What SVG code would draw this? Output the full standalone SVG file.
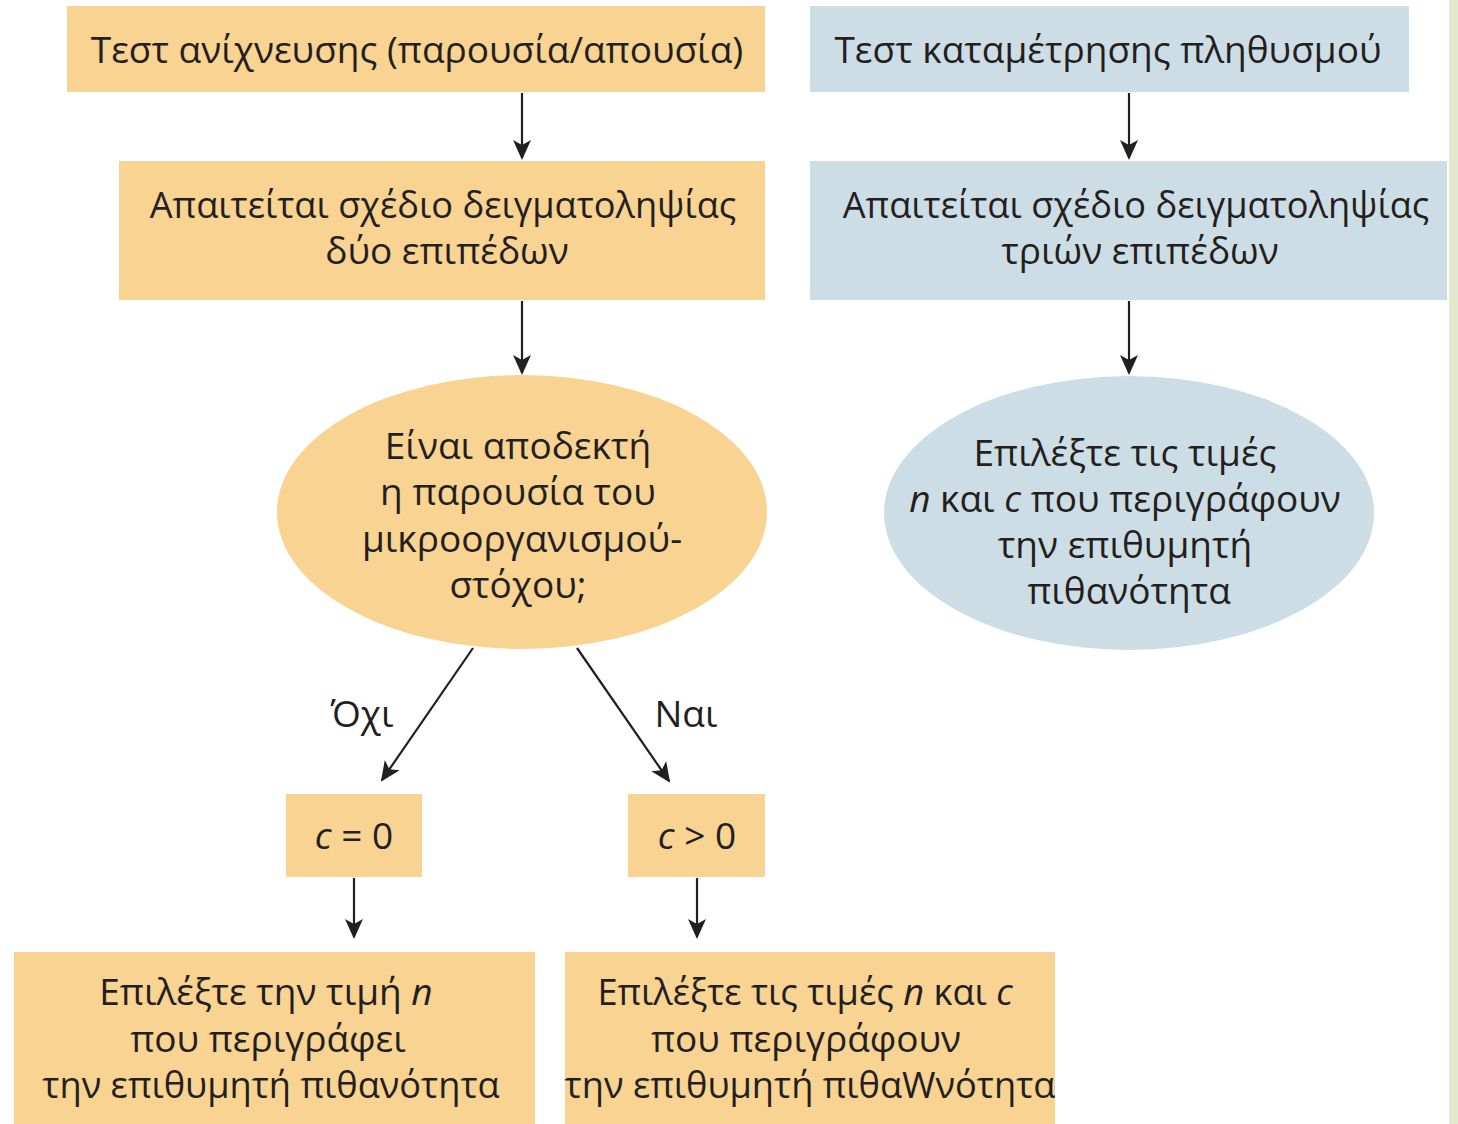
<svg xmlns="http://www.w3.org/2000/svg" width="1458" height="1124" viewBox="0 0 1458 1124">
<style>
.o{fill:#f8d391}
.b{fill:#cddde5}
text{font-family:"Open Sans","Noto Sans","DejaVu Sans",sans-serif;font-size:37px;fill:#231f20;text-anchor:middle}
.s{font-size:36.2px}
.i{font-style:italic}
.c line{stroke:#231f20;stroke-width:2.2;marker-end:url(#ah)}
</style>
<defs>
<marker id="ah" viewBox="0 0 20 20" refX="18" refY="10" markerWidth="20" markerHeight="20" markerUnits="userSpaceOnUse" orient="auto">
<path d="M0,1 L20,10 L0,19 L5,10 Z" fill="#231f20"/>
</marker>
</defs>
<rect width="1458" height="1124" fill="#fff"/>
<rect x="1449" y="0" width="9" height="1124" fill="#e1e8cd"/>
<g id="n1"><rect class="o" x="67" y="6" width="698" height="86"/><text x="417" y="63">Τεστ ανίχνευσης (παρουσία/απουσία)</text></g>
<g id="n2"><rect class="b" x="810" y="6" width="599" height="86"/><text x="1108" y="63">Τεστ καταμέτρησης πληθυσμού</text></g>
<g id="n3"><rect class="o" x="119" y="161" width="646" height="139"/><text class="s" x="443" y="218">Απαιτείται σχέδιο δειγματοληψίας</text><text x="447" y="264">δύο επιπέδων</text></g>
<g id="n4"><rect class="b" x="810" y="161" width="637" height="139"/><text class="s" x="1136" y="218">Απαιτείται σχέδιο δειγματοληψίας</text><text x="1140" y="264">τριών επιπέδων</text></g>
<g id="n5"><ellipse class="o" cx="522" cy="512" rx="245" ry="137"/><text x="518" y="459">Είναι αποδεκτή</text><text x="518" y="505">η παρουσία του</text><text x="522" y="552">μικροοργανισμού-</text><text x="518" y="598">στόχου;</text></g>
<g id="n6"><ellipse class="b" cx="1129" cy="513" rx="245" ry="137"/><text x="1125" y="466">Επιλέξτε τις τιμές</text><text x="1125" y="512"><tspan class="i">n</tspan> και <tspan class="i">c</tspan> που περιγράφουν</text><text x="1125" y="558">την επιθυμητή</text><text x="1129" y="604">πιθανότητα</text></g>
<g id="n7"><rect class="o" x="286" y="794" width="136" height="83"/><text x="354" y="849"><tspan class="i">c</tspan> = 0</text></g>
<g id="n8"><rect class="o" x="628" y="794" width="137" height="83"/><text x="697" y="849"><tspan class="i">c</tspan> &gt; 0</text></g>
<g id="n9"><rect class="o" x="14" y="952" width="521" height="172"/><text x="266" y="1005">Επιλέξτε την τιμή <tspan class="i">n</tspan></text><text x="268" y="1052">που περιγράφει</text><text class="s" x="271" y="1098">την επιθυμητή πιθανότητα</text></g>
<g id="n10"><rect class="o" x="565" y="952" width="490" height="172"/><text class="s" x="805" y="1005">Επιλέξτε τις τιμές <tspan class="i">n</tspan> και <tspan class="i">c</tspan></text><text x="806" y="1052">που περιγράφουν</text><text class="s" x="810" y="1098">την επιθυμητή πιθαWνότητα</text></g>
<g class="c" id="connectors">
<line x1="522" y1="93" x2="522" y2="158"/>
<line x1="1129" y1="93" x2="1129" y2="158"/>
<line x1="522" y1="301" x2="522" y2="373"/>
<line x1="1129" y1="301" x2="1129" y2="373"/>
<line x1="473" y1="648" x2="382" y2="780"/>
<line x1="577" y1="648" x2="669" y2="781"/>
<line x1="354" y1="878" x2="354" y2="937"/>
<line x1="697" y1="878" x2="697" y2="937"/>
</g>
<g id="labels"><text x="362" y="727">Όχι</text><text x="686" y="727">Ναι</text></g>
</svg>
